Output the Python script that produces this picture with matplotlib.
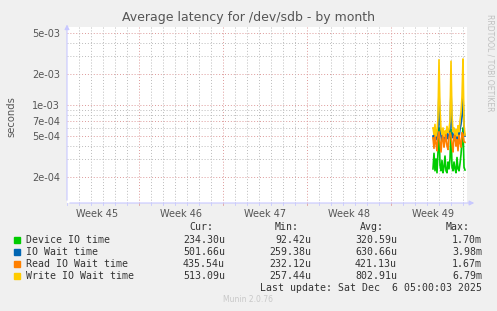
import numpy as np
import matplotlib
matplotlib.use("Agg")
import matplotlib.pyplot as plt

# data (seconds), 2-hour steps over the last days of the month view
start_day = 30.5
step_days = 2 / 24.0
write_io = [6.0, 5.2, 6.5, 5.0, 5.5, 7.5, 27.5, 9.0, 5.8, 5.2, 6.0, 5.0, 5.6, 5.3, 6.2, 5.4, 5.8,
            7.0, 26.6, 8.0, 5.5, 6.0, 5.2, 5.8, 5.0, 6.3, 5.5, 7.0, 8.5, 12.0, 28.0, 6.5, 5.1]
io_wait = [5.0, 4.5, 5.8, 4.6, 4.8, 6.0, 13.5, 6.5, 5.0, 4.5, 5.3, 4.4, 4.8, 4.6, 5.5, 4.7, 5.0,
           6.0, 13.8, 6.2, 4.8, 5.2, 4.5, 5.0, 4.3, 5.4, 4.8, 5.8, 6.5, 8.0, 13.0, 5.5, 5.0]
read_io = [4.8, 3.8, 5.2, 4.2, 3.6, 5.0, 5.5, 4.4, 3.5, 4.6, 5.3, 3.9, 4.5, 5.2, 4.0, 3.7, 4.8,
           5.4, 5.0, 4.2, 3.5, 4.9, 5.3, 4.0, 4.6, 3.6, 5.1, 4.3, 3.9, 5.4, 5.2, 4.4, 4.35]
device_io = [2.4, 3.4, 2.3, 3.0, 2.2, 3.5, 6.0, 2.6, 2.3, 2.9, 2.2, 2.5, 3.2, 2.3, 2.2, 2.8, 2.4,
             3.0, 5.8, 2.5, 2.3, 2.8, 2.4, 2.2, 3.1, 2.4, 2.3, 2.7, 3.3, 4.5, 6.0, 2.5, 2.34]

names = ["Device IO time", "IO Wait time", "Read IO Wait time", "Write IO Wait time"]
colors = ["#00CC00", "#0066B3", "#FF8000", "#FFCC00"]
cur = ["234.30u", "501.66u", "435.54u", "513.09u"]
mins = ["92.42u", "259.38u", "232.12u", "257.44u"]
avgs = ["320.59u", "630.66u", "421.13u", "802.91u"]
maxs = ["1.70m", "3.98m", "1.67m", "6.79m"]

week_labels = ["Week 45", "Week 46", "Week 47", "Week 48", "Week 49"]
week_centers = [2.5, 9.5, 16.5, 23.5, 30.5]
week_bounds = [6, 13, 20, 27]
ytick_vals = [2e-4, 5e-4, 7e-4, 1e-3, 2e-3, 5e-3]
ytick_labels = ["2e-04", "5e-04", "7e-04", "1e-03", "2e-03", "5e-03"]

x = start_day + np.arange(len(write_io)) * step_days
series = [np.array(device_io) * 1e-4, np.array(io_wait) * 1e-4,
          np.array(read_io) * 1e-4, np.array(write_io) * 1e-4]

W, H = 497, 311
fig = plt.figure(figsize=(W / 100, H / 100), dpi=100, facecolor="#F0F0F0")
ax = fig.add_axes([67 / W, (H - 203) / H, 400 / W, (203 - 27) / H])
ax.set_facecolor("white")
ax.set_yscale("log")
ax.set_xlim(0, 400 / 12.0)
ax.set_ylim(1.12e-4, 5.72e-3)

# grid
minor_y = [v * 10 ** e for e in (-4, -3) for v in range(1, 10)]
for v in minor_y:
    if any(abs(v - t) / t < 1e-6 for t in ytick_vals):
        continue
    ax.axhline(v, color="#BBBBBB", lw=0.7, ls=(0, (1, 2)), zorder=0)
for v in ytick_vals:
    ax.axhline(v, color="#DD9999", lw=0.7, ls=(0, (1, 2)), zorder=0)
for d in range(1, 34):
    if d in week_bounds:
        ax.axvline(d, color="#DD9999", lw=0.7, ls=(0, (1, 2)), zorder=0)
    else:
        ax.axvline(d, color="#BBBBBB", lw=0.7, ls=(0, (1, 2)), zorder=0)

for s, c in zip(series, colors):
    ax.plot(x, s, color=c, lw=1.2, zorder=3)

for sp in ax.spines.values():
    sp.set_visible(False)
ax.set_yticks(ytick_vals)
ax.set_yticklabels(ytick_labels)
ax.yaxis.set_minor_locator(matplotlib.ticker.NullLocator())
ax.set_xticks(week_centers)
ax.set_xticklabels(week_labels)
ax.tick_params(axis="both", length=0, labelsize=7, colors="#555555", pad=4)
ax.tick_params(axis="y", pad=5)

# axis lines with arrows
ax.annotate("", xy=(1.025, 0), xytext=(0, 0), xycoords="axes fraction",
            arrowprops=dict(arrowstyle="-|>", color="#C8C8FF", lw=0.8, mutation_scale=7),
            annotation_clip=False)
ax.annotate("", xy=(0, 1.03), xytext=(0, 0), xycoords="axes fraction",
            arrowprops=dict(arrowstyle="-|>", color="#C8C8FF", lw=0.8, mutation_scale=7),
            annotation_clip=False)
for d in range(0, 34):
    c = "#E0A0A0" if d in week_bounds else "#C8C8FF"
    ax.plot([d, d], [-0.012, 0.0], color=c, lw=0.6, transform=ax.get_xaxis_transform(),
            clip_on=False)

fig.text(248 / W, 1 - 18 / H, "Average latency for /dev/sdb - by month", ha="center",
         va="center", fontsize=9, color="#555555")
fig.text(11 / W, 1 - 117 / H, "seconds", rotation=90, ha="center", va="center",
         fontsize=7.2, color="#555555")
fig.text(490 / W, 1 - 14 / H, "RRDTOOL / TOBI OETIKER", rotation=270, ha="center",
         va="top", fontsize=5.5, color="#C0C0C0")

mono = "DejaVu Sans Mono"
fs = 7.1
tc = "#333333"
header_y = 227
for lab, xr in zip(["Cur:", "Min:", "Avg:", "Max:"], [213, 299, 384, 470]):
    fig.text(xr / W, 1 - header_y / H, lab, ha="right", va="center", family=mono,
             fontsize=fs, color=tc)
for i in range(4):
    yy = 1 - (240 + 12 * i) / H
    fig.patches.append(plt.Rectangle((14 / W, yy - 3 / H), 6 / W, 6 / H, color=colors[i],
                                     transform=fig.transFigure, figure=fig))
    fig.text(26 / W, yy, names[i], ha="left", va="center", family=mono, fontsize=fs, color=tc)
    for val, xr in zip([cur[i], mins[i], avgs[i], maxs[i]], [225, 311, 397, 482]):
        fig.text(xr / W, yy, val, ha="right", va="center", family=mono, fontsize=fs, color=tc)
fig.text(482 / W, 1 - 288 / H, "Last update: Sat Dec  6 05:00:03 2025", ha="right",
         va="center", family=mono, fontsize=fs, color=tc)
fig.text(248 / W, 1 - 300 / H, "Munin 2.0.76", ha="center", va="center", fontsize=5.5,
         color="#C8C8C8")

fig.savefig("out.png", dpi=100, facecolor=fig.get_facecolor())
